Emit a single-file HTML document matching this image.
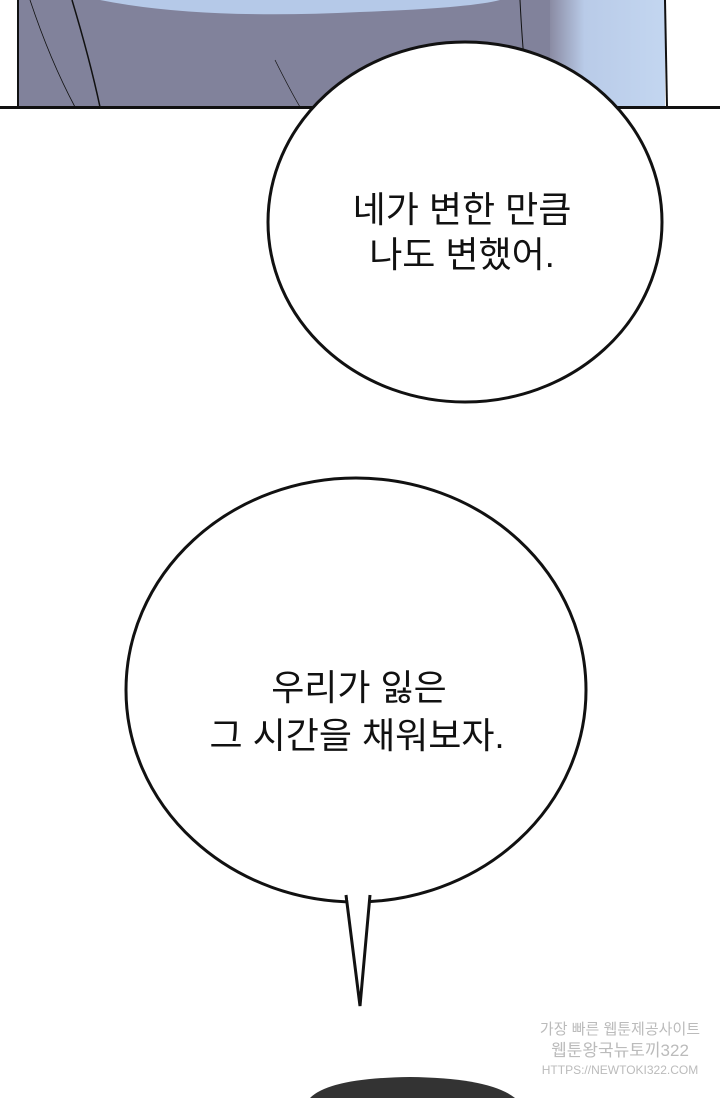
<!DOCTYPE html>
<html><head><meta charset="utf-8"><style>
html,body{margin:0;padding:0;background:#fff;}
svg{display:block;}
text{font-family:"Liberation Sans","Noto Sans CJK KR",sans-serif;font-size:36px;fill:#111;text-anchor:middle;}
</style></head><body>
<svg width="720" height="1098" viewBox="0 0 720 1098">
<defs>
<linearGradient id="bl" x1="0" x2="1" y1="0" y2="0">
<stop offset="0" stop-color="#8a8ba3"/><stop offset="0.3" stop-color="#b9cbe8"/><stop offset="1" stop-color="#c3d6f0"/>
</linearGradient>
</defs>
<rect x="18" y="0" width="647" height="107" fill="#81829b"/>
<rect x="550" y="0" width="115" height="107" fill="url(#bl)"/>
<path d="M100 0 Q200 20 360 12 Q470 8 500 0 Z" fill="#b5c9e8"/>
<line x1="18" y1="0" x2="18" y2="107" stroke="#111" stroke-width="2"/>
<line x1="665" y1="0" x2="667" y2="107" stroke="#111" stroke-width="2"/>
<path d="M72 0 Q90 60 100 107" stroke="#111" stroke-width="1.5" fill="none"/>
<path d="M30 0 Q50 60 75 107" stroke="#111" stroke-width="0.8" fill="none"/>
<path d="M275 60 Q290 90 300 107" stroke="#111" stroke-width="0.7" fill="none"/>
<path d="M520 0 Q522 40 525 70" stroke="#111" stroke-width="1" fill="none"/>
<rect x="0" y="106" width="720" height="3" fill="#111"/>
<ellipse cx="465" cy="222" rx="197" ry="180" fill="#fff" stroke="#111" stroke-width="3"/>
<text x="462" y="222">네가 변한 만큼</text>
<text x="462" y="267">나도 변했어.</text>
<ellipse cx="356" cy="690" rx="230" ry="212" fill="#fff" stroke="#111" stroke-width="3"/>
<path d="M346 895 L360 1006 L370 895" fill="#fff" stroke="#111" stroke-width="3" stroke-linejoin="miter"/>
<rect x="348" y="890" width="20" height="10" fill="#fff"/>
<text x="359" y="700">우리가 잃은</text>
<text x="357" y="748">그 시간을 채워보자.</text>
<path d="M310 1098 Q330 1078 410 1077 Q490 1078 515 1098 Z" fill="#333"/>
<text x="620" y="1034" style="font-size:15px;fill:#bbb">가장 빠른 웹툰제공사이트</text>
<text x="620" y="1056" style="font-size:17px;fill:#bbb">웹툰왕국뉴토끼322</text>
<text x="620" y="1074" style="font-size:12px;fill:#bbb">HTTPS://NEWTOKI322.COM</text>
</svg>
</body></html>
